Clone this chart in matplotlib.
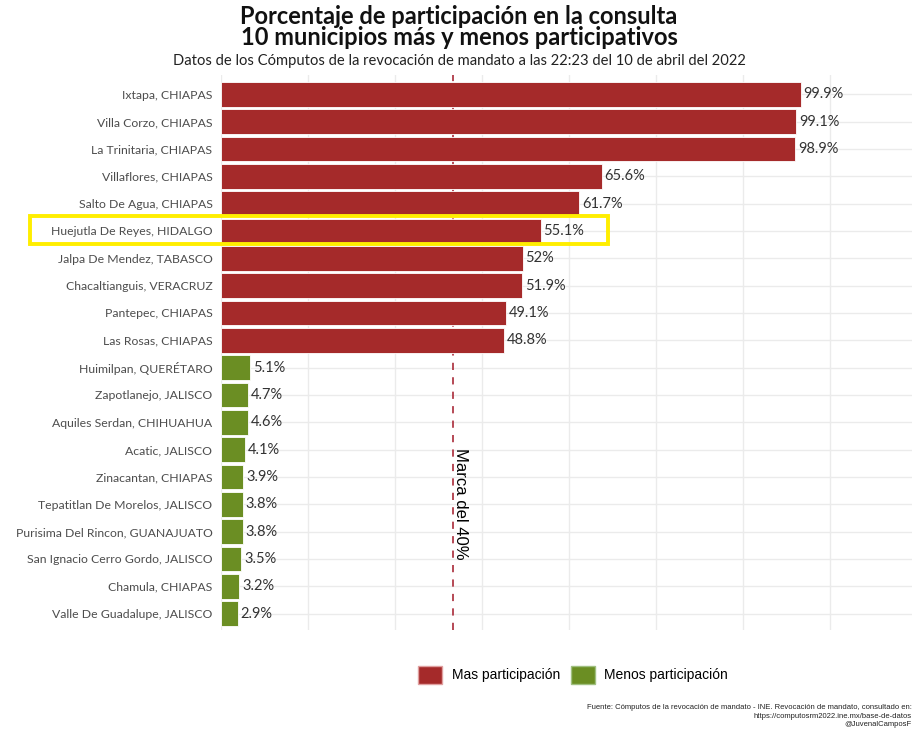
import matplotlib.pyplot as plt
from matplotlib.patches import Patch, Rectangle

municipios = ['Ixtapa, CHIAPAS', 'Villa Corzo, CHIAPAS', 'La Trinitaria, CHIAPAS',
              'Villaflores, CHIAPAS', 'Salto De Agua, CHIAPAS', 'Huejutla De Reyes, HIDALGO',
              'Jalpa De Mendez, TABASCO', 'Chacaltianguis, VERACRUZ', 'Pantepec, CHIAPAS',
              'Las Rosas, CHIAPAS', 'Huimilpan, QUERÉTARO', 'Zapotlanejo, JALISCO',
              'Aquiles Serdan, CHIHUAHUA', 'Acatic, JALISCO', 'Zinacantan, CHIAPAS',
              'Tepatitlan De Morelos, JALISCO', 'Purisima Del Rincon, GUANAJUATO',
              'San Ignacio Cerro Gordo, JALISCO', 'Chamula, CHIAPAS', 'Valle De Guadalupe, JALISCO']
porcentaje = [99.9, 99.1, 98.9, 65.6, 61.7, 55.1, 52, 51.9, 49.1, 48.8,
              5.1, 4.7, 4.6, 4.1, 3.9, 3.8, 3.8, 3.5, 3.2, 2.9]
etiquetas = ['99.9%', '99.1%', '98.9%', '65.6%', '61.7%', '55.1%', '52%', '51.9%', '49.1%', '48.8%',
             '5.1%', '4.7%', '4.6%', '4.1%', '3.9%', '3.8%', '3.8%', '3.5%', '3.2%', '2.9%']
grupo = ['Mas participación'] * 10 + ['Menos participación'] * 10
colores = {'Mas participación': '#A52A2A', 'Menos participación': '#6B8E23'}

plt.rcParams['font.family'] = ['Lato', 'DejaVu Sans']

fig = plt.figure(figsize=(9.2, 7.36), dpi=100)
ax = fig.add_axes([0.240, 0.144, 0.751, 0.754])

pos = list(range(len(municipios)))
ax.barh(pos, porcentaje, height=0.9, color=[colores[g] for g in grupo],
        edgecolor='white', linewidth=0.6, zorder=3)

for p, v, t in zip(pos, porcentaje, etiquetas):
    ax.text(v + 0.5, p, t, va='center', ha='left', fontsize=10.5, color='#333333', zorder=4)

ax.set_xlim(0, 119)
ax.set_ylim(19.6, -0.7)
ax.set_yticks(pos)
ax.set_yticklabels(municipios, fontsize=8.8, color='#4d4d4d')
ax.set_xticks([0, 30, 60, 90])
ax.set_xticks([15, 45, 75, 105], minor=True)
ax.tick_params(axis='x', which='both', length=0, labelbottom=False)
ax.tick_params(axis='y', length=0, pad=6)
ax.grid(True, which='major', color='#ebebeb', linewidth=1.0, zorder=0)
ax.grid(True, which='minor', axis='x', color='#ebebeb', linewidth=1.0, zorder=0)
for s in ax.spines.values():
    s.set_visible(False)

# marca del 40%
ax.axvline(40, color='#B03A48', linestyle=(0, (4, 4)), linewidth=1.3, zorder=2)
ax.text(41.2, 15.0, 'Marca del 40%', rotation=-90, ha='center', va='center',
        fontsize=12, family='Liberation Sans', color='black', zorder=4)

# recuadro amarillo
fig.patches.append(Rectangle((30 / 920, 1 - 244 / 736), 578 / 920, 28 / 736,
                             transform=fig.transFigure, fill=False,
                             edgecolor='#FFEE00', linewidth=2.8, zorder=10))

fig.text(0.499, 0.963, 'Porcentaje de participación en la consulta\n10 municipios más y menos participativos',
         ha='center', va='center', fontsize=17, fontweight='bold', color='#111111', linespacing=0.9)
fig.text(0.499, 0.917, 'Datos de los Cómputos de la revocación de mandato a las 22:23 del 10 de abril del 2022',
         ha='center', va='center', fontsize=10.6, color='#222222')

handles = [Patch(facecolor=c, edgecolor='#e0a0a0' if k.startswith('Mas') else '#a0c080', label=k)
           for k, c in colores.items()]
fig.legend(handles=handles, loc='center', bbox_to_anchor=(0.623, 0.083), ncol=2, frameon=False,
           prop={'family': 'Liberation Sans', 'size': 10}, handlelength=1.7, handleheight=1.7,
           columnspacing=0.8, handletextpad=0.7)

fig.text(0.991, 0.027, 'Fuente: Cómputos de la revocación de mandato - INE. Revocación de mandato, consultado en:\n'
         'https://computosrm2022.ine.mx/base-de-datos\n@JuvenalCamposF',
         ha='right', va='center', fontsize=5.5, family='Liberation Sans', color='#222222',
         linespacing=1.3)

fig.savefig('out.png', dpi=100)
